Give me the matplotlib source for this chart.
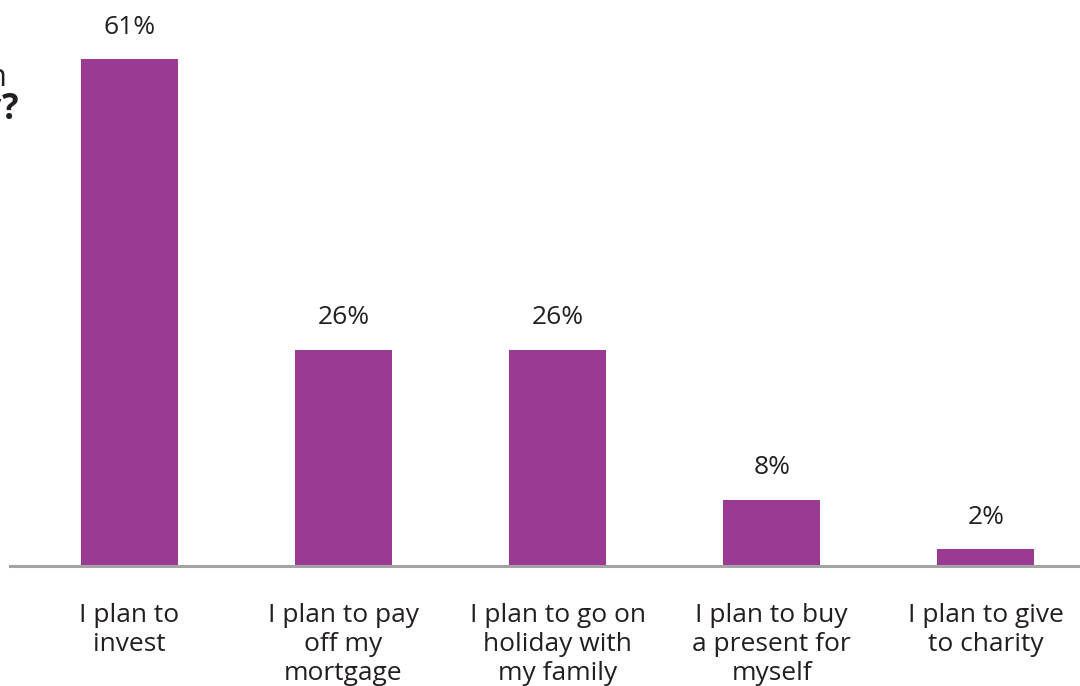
import matplotlib.pyplot as plt

plt.rcParams['font.family'] = ['Open Sans', 'DejaVu Sans']

categories = [
    'I plan to\ninvest',
    'I plan to pay\noff my\nmortgage',
    'I plan to go on\nholiday with\nmy family',
    'I plan to buy\na present for\nmyself',
    'I plan to give\nto charity',
]
shares = [61, 26, 26, 8, 2]

bar_color = '#9a3a92'
text_color = '#231f20'

fig = plt.figure(figsize=(10.8, 6.86), dpi=100)
ax = fig.add_axes([10 / 1080, 120 / 686, 1070 / 1080, 566 / 686])

x = list(range(len(categories)))
bars = ax.bar(x, shares, width=0.453, color=bar_color)

for rect, val in zip(bars, shares):
    ax.annotate(f'{val}%', (rect.get_x() + rect.get_width() / 2, val),
                xytext=(0, 14), textcoords='offset points',
                ha='center', va='bottom', fontsize=19, color=text_color)

for xi, label in zip(x, categories):
    ax.text(xi, -4.5, label, ha='center', va='top', fontsize=19,
            color=text_color, linespacing=1.2, clip_on=False)

ax.set_xlim(-0.558, 4.44)
ax.set_ylim(0, 68.1)
ax.axhline(0, color='#a3a3a3', linewidth=2.2, clip_on=False)
for s in ax.spines.values():
    s.set_visible(False)
ax.set_xticks([])
ax.set_yticks([])

# question heading, mostly off the left edge of the canvas
fig.text(0.006, 1 - 78 / 686, 'Respondents were asked the question', ha='right',
         va='center', fontsize=22, color=text_color)
fig.text(0.017, 1 - 110 / 686, 'What will you do with the money?', ha='right',
         va='center', fontsize=25, fontweight='bold', color=text_color)

fig.savefig('out.png', dpi=100)
